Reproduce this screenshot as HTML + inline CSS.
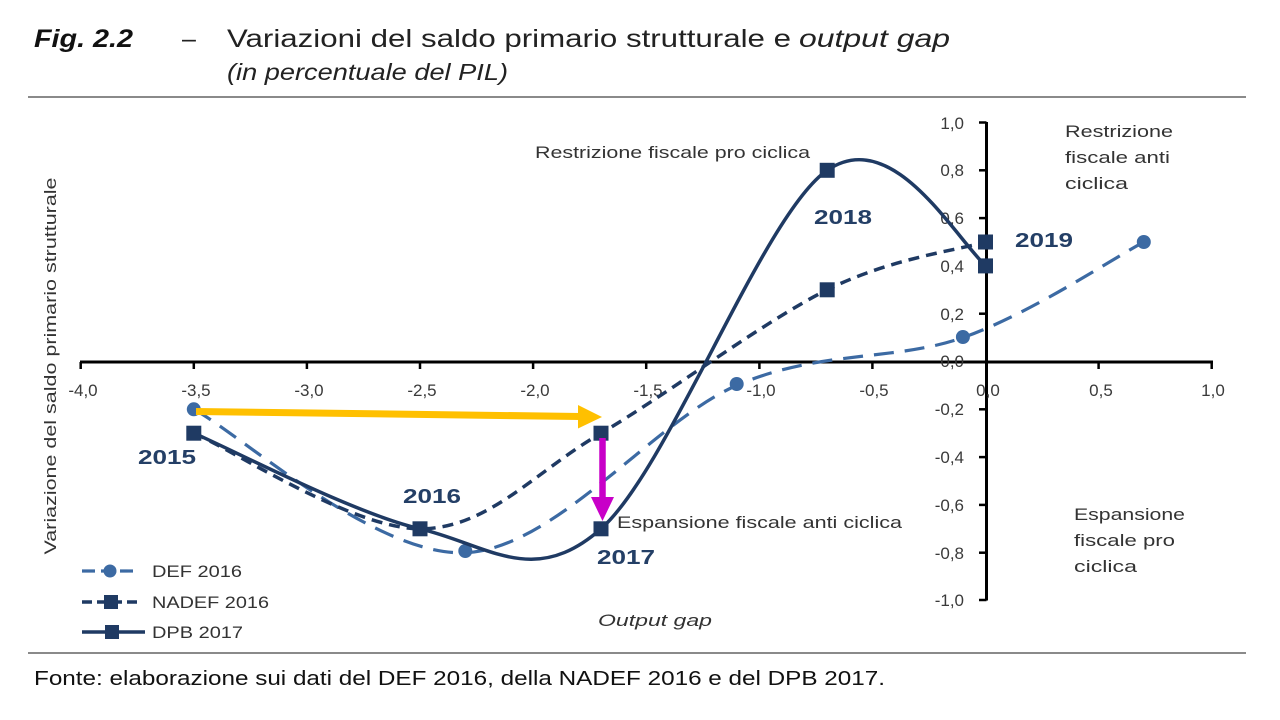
<!DOCTYPE html>
<html><head><meta charset="utf-8"><style>
html,body{margin:0;padding:0;background:#fff;}
svg{display:block;}
text{font-family:"Liberation Sans",sans-serif;}
</style></head><body>
<svg width="1280" height="720" viewBox="0 0 1280 720" xmlns="http://www.w3.org/2000/svg">
<rect width="1280" height="720" fill="#fff"/>
<!-- Title -->
<text x="34" y="47" font-size="25" font-weight="bold" font-style="italic" fill="#111" textLength="99" lengthAdjust="spacingAndGlyphs">Fig. 2.2</text>
<text x="182" y="47" font-size="25" fill="#222">–</text>
<text x="227" y="47" font-size="25" fill="#222" textLength="564" lengthAdjust="spacingAndGlyphs">Variazioni del saldo primario strutturale e</text>
<text x="799" y="47" font-size="25" font-style="italic" fill="#222" textLength="151" lengthAdjust="spacingAndGlyphs">output gap</text>
<text x="227" y="80" font-size="23" font-style="italic" fill="#222" textLength="281" lengthAdjust="spacingAndGlyphs">(in percentuale del PIL)</text>
<line x1="28" y1="97" x2="1246" y2="97" stroke="#8a8a8a" stroke-width="2"/>

<!-- Axes -->
<g stroke="#000" stroke-width="3" fill="none">
<line x1="80" y1="362" x2="1213" y2="362"/>
<line x1="986.5" y1="122" x2="986.5" y2="600.5"/>
</g>
<g stroke="#000" stroke-width="2.5">
<line x1="80.7" y1="362" x2="80.7" y2="369"/>
<line x1="193.8" y1="362" x2="193.8" y2="369"/>
<line x1="306.9" y1="362" x2="306.9" y2="369"/>
<line x1="420" y1="362" x2="420" y2="369"/>
<line x1="533.1" y1="362" x2="533.1" y2="369"/>
<line x1="646.2" y1="362" x2="646.2" y2="369"/>
<line x1="759.4" y1="362" x2="759.4" y2="369"/>
<line x1="872.4" y1="362" x2="872.4" y2="369"/>
<line x1="1098.6" y1="362" x2="1098.6" y2="369"/>
<line x1="1211.7" y1="362" x2="1211.7" y2="369"/>
<line x1="979" y1="122.5" x2="986.5" y2="122.5"/>
<line x1="979" y1="170.3" x2="986.5" y2="170.3"/>
<line x1="979" y1="218.1" x2="986.5" y2="218.1"/>
<line x1="979" y1="265.9" x2="986.5" y2="265.9"/>
<line x1="979" y1="313.7" x2="986.5" y2="313.7"/>
<line x1="979" y1="409.3" x2="986.5" y2="409.3"/>
<line x1="979" y1="457.1" x2="986.5" y2="457.1"/>
<line x1="979" y1="504.9" x2="986.5" y2="504.9"/>
<line x1="979" y1="552.7" x2="986.5" y2="552.7"/>
<line x1="979" y1="600" x2="986.5" y2="600"/>
</g>
<!-- X tick labels -->
<g font-size="17" fill="#3a3a3a" text-anchor="middle">
<text x="83" y="396">-4,0</text>
<text x="196" y="396">-3,5</text>
<text x="309" y="396">-3,0</text>
<text x="422" y="396">-2,5</text>
<text x="535" y="396">-2,0</text>
<text x="648" y="396">-1,5</text>
<text x="761" y="396">-1,0</text>
<text x="874" y="396">-0,5</text>
<text x="988" y="396">0,0</text>
<text x="1101" y="396">0,5</text>
<text x="1213" y="396">1,0</text>
</g>
<!-- Y tick labels -->
<g font-size="17" fill="#3a3a3a" text-anchor="end">
<text x="964" y="129">1,0</text>
<text x="964" y="176">0,8</text>
<text x="964" y="224">0,6</text>
<text x="964" y="272">0,4</text>
<text x="964" y="320">0,2</text>
<text x="964" y="367">0,0</text>
<text x="964" y="415">-0,2</text>
<text x="964" y="463">-0,4</text>
<text x="964" y="511">-0,6</text>
<text x="964" y="559">-0,8</text>
<text x="964" y="606">-1,0</text>
</g>

<!-- Y axis title -->
<text transform="translate(56,366) rotate(-90)" font-size="17" fill="#333" text-anchor="middle" textLength="377" lengthAdjust="spacingAndGlyphs">Variazione del saldo primario strutturale</text>
<text x="655" y="626" font-size="17" font-style="italic" fill="#333" text-anchor="middle" textLength="114" lengthAdjust="spacingAndGlyphs">Output gap</text>

<!-- Annotations -->
<g font-size="17" fill="#333">
<text x="535" y="158" textLength="275" lengthAdjust="spacingAndGlyphs">Restrizione fiscale pro ciclica</text>
<text x="617" y="528" textLength="285" lengthAdjust="spacingAndGlyphs">Espansione fiscale anti ciclica</text>
<text x="1065" y="137" textLength="108" lengthAdjust="spacingAndGlyphs">Restrizione</text>
<text x="1065" y="163" textLength="105" lengthAdjust="spacingAndGlyphs">fiscale anti</text>
<text x="1065" y="189" textLength="63" lengthAdjust="spacingAndGlyphs">ciclica</text>
<text x="1074" y="520" textLength="111" lengthAdjust="spacingAndGlyphs">Espansione</text>
<text x="1074" y="546" textLength="101" lengthAdjust="spacingAndGlyphs">fiscale pro</text>
<text x="1074" y="572" textLength="63" lengthAdjust="spacingAndGlyphs">ciclica</text>
</g>

<!-- Series: DEF 2016 -->
<path d="M193.8,409.3 C239.05,433.2 374.8,556.7 465.3,552.7 C555.8,548.7 653.8,421.25 736.7,385.4 C819.6,349.55 895.05,361.5 962.9,337.6 C1030.75,313.7 1113.65,257.9 1143.8,242" fill="none" stroke="#3c6aa3" stroke-width="3.2" stroke-dasharray="20,11"/>
<g fill="#3c6aa3">
<circle cx="193.8" cy="409.3" r="7"/>
<circle cx="465.3" cy="551" r="7"/>
<circle cx="736.7" cy="384" r="7"/>
<circle cx="962.9" cy="337" r="7"/>
<circle cx="1143.8" cy="242" r="7"/>
</g>

<!-- Series: NADEF 2016 -->
<path d="M193.8,433.2 C231.5,449.1 352.1,528.8 420,528.8 C487.9,528.8 533.1,473 601,433.2 C668.9,393.4 763.1,321.7 827.2,289.8 C891.3,257.9 959.1,250 985.5,242" fill="none" stroke="#1f3a63" stroke-width="3.5" stroke-dasharray="11,7"/>

<!-- Series: DPB 2017 -->
<path d="M193.8,433.2 C231.5,449.1 352.1,512.9 420,528.8 C487.9,544.7 533.1,588.5 601,528.8 C668.9,469.05 763.1,214.1 827.2,170.3 C891.3,126.5 950,230 985.5,265.9" fill="none" stroke="#1f3a63" stroke-width="3.5"/>

<g fill="#1f3a63">
<rect x="186.3" y="425.7" width="15" height="15"/>
<rect x="412.5" y="521.3" width="15" height="15"/>
<rect x="593.5" y="425.7" width="15" height="15"/>
<rect x="819.7" y="282.3" width="15" height="15"/>
<rect x="978" y="234.5" width="15" height="15"/>
<rect x="593.5" y="521.3" width="15" height="15"/>
<rect x="819.7" y="162.8" width="15" height="15"/>
<rect x="978" y="258.4" width="15" height="15"/>
</g>

<!-- Year labels -->
<g font-size="20" font-weight="bold" fill="#243f66">
<text x="138" y="464" textLength="58" lengthAdjust="spacingAndGlyphs">2015</text>
<text x="403" y="503" textLength="58" lengthAdjust="spacingAndGlyphs">2016</text>
<text x="597" y="564" textLength="58" lengthAdjust="spacingAndGlyphs">2017</text>
<text x="814" y="224" textLength="58" lengthAdjust="spacingAndGlyphs">2018</text>
<text x="1015" y="247" textLength="58" lengthAdjust="spacingAndGlyphs">2019</text>
</g>

<!-- Yellow arrow -->
<line x1="196" y1="411.5" x2="580" y2="416.5" stroke="#ffc000" stroke-width="7"/>
<polygon points="578,405 602,417 578,428.5" fill="#ffc000"/>
<!-- Magenta arrow -->
<line x1="602.5" y1="438" x2="602.5" y2="500" stroke="#c800c8" stroke-width="6.5"/>
<polygon points="591,497 614,497 602.5,521" fill="#c800c8"/>

<!-- Legend -->
<g>
<line x1="82" y1="571" x2="139" y2="571" stroke="#3c6aa3" stroke-width="3.2" stroke-dasharray="13,6"/>
<circle cx="110" cy="571" r="6.5" fill="#3c6aa3"/>
<text x="152" y="577" font-size="17" fill="#333" textLength="90" lengthAdjust="spacingAndGlyphs">DEF 2016</text>
<line x1="82" y1="602" x2="139" y2="602" stroke="#1f3a63" stroke-width="3.5" stroke-dasharray="10,5"/>
<rect x="104" y="595" width="14" height="14" fill="#1f3a63"/>
<text x="152" y="608" font-size="17" fill="#333" textLength="117" lengthAdjust="spacingAndGlyphs">NADEF 2016</text>
<line x1="82" y1="632" x2="145" y2="632" stroke="#1f3a63" stroke-width="3.5"/>
<rect x="105" y="625" width="14" height="14" fill="#1f3a63"/>
<text x="152" y="638" font-size="17" fill="#333" textLength="91" lengthAdjust="spacingAndGlyphs">DPB 2017</text>
</g>

<!-- Footer -->
<line x1="28" y1="653" x2="1246" y2="653" stroke="#8a8a8a" stroke-width="2"/>
<text x="34" y="685" font-size="20" fill="#111" textLength="851" lengthAdjust="spacingAndGlyphs">Fonte: elaborazione sui dati del DEF 2016, della NADEF 2016 e del DPB 2017.</text>
</svg>
</body></html>
